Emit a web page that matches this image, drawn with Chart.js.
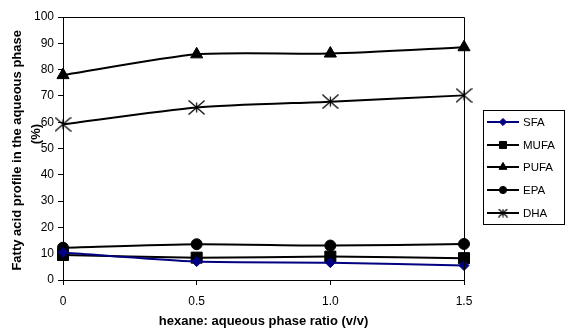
<!DOCTYPE html>
<html>
<head>
<meta charset="utf-8">
<script src="https://cdn.jsdelivr.net/npm/chart.js@4"></script>
<style>
  html, body { margin: 0; padding: 0; background: #fff; }
  #wrap { width: 568px; height: 330px; }
</style>
</head>
<body>
<div id="wrap"><canvas id="chart"></canvas></div>
<script>
// hexane : aqueous phase ratio (v/v)
const ratios = [0, 0.5, 1, 1.5];

// fatty acid profile in the aqueous phase (%)
const sfa = [10.5, 7.0, 6.6, 5.5];
const mufa = [9.5, 8.5, 8.9, 8.3];
const pufa = [77.9, 85.8, 86.1, 88.5];
const epa = [12.3, 13.6, 13.1, 13.7];
const dha = [59.2, 65.6, 67.8, 70.2];

const seriesNames = ["SFA", "MUFA", "PUFA", "EPA", "DHA"];

const FONT = "'Liberation Sans', Arial, sans-serif";

// asterisk marker: an X with a short vertical bar
function makeStar(w, h, bar) {
  const c = document.createElement("canvas");
  c.width = w;
  c.height = h;
  const g = c.getContext("2d");
  g.strokeStyle = "#000";
  g.lineWidth = 1.2;
  g.beginPath();
  g.moveTo(0.5, 0.5); g.lineTo(w - 0.5, h - 0.5);
  g.moveTo(w - 0.5, 0.5); g.lineTo(0.5, h - 0.5);
  g.moveTo(w / 2, h / 2 - bar); g.lineTo(w / 2, h / 2 + bar);
  g.stroke();
  return c;
}
const starBig = makeStar(17, 15, 5);
const starSmall = makeStar(10, 9, 4);

function pts(values) {
  return values.map((v, i) => ({ x: ratios[i], y: v }));
}

function series(label, values, color, style, radius) {
  return {
    label: label,
    data: pts(values),
    borderColor: color,
    backgroundColor: color,
    borderWidth: 2,
    pointStyle: style,
    pointRadius: radius,
    pointBorderWidth: 1,
    tension: 0.22,
    clip: false,
  };
}

// draws the box around the plot and the boxed legend on the right
const frameAndLegend = {
  id: "frameAndLegend",
  afterDraw(chart) {
    const ctx = chart.ctx;
    const a = chart.chartArea;
    ctx.save();
    ctx.strokeStyle = "#000";
    ctx.lineWidth = 1;
    ctx.beginPath();
    ctx.moveTo(Math.round(a.left) + 0.5, Math.round(a.top) + 0.5);
    ctx.lineTo(Math.round(a.right) + 0.5, Math.round(a.top) + 0.5);
    ctx.lineTo(Math.round(a.right) + 0.5, Math.round(a.bottom) + 0.5);
    ctx.stroke();

    // legend box
    ctx.strokeRect(483.5, 110.5, 81, 114);
    const rowTop = 122;
    const rowStep = 22.7;
    const legendRadius = [3.6, 5, 4.6, 3.6, 0];
    chart.data.datasets.forEach((ds, i) => {
      const y = Math.round(rowTop + i * rowStep);
      ctx.strokeStyle = ds.borderColor;
      ctx.fillStyle = ds.backgroundColor;
      ctx.lineWidth = 2;
      ctx.beginPath();
      ctx.moveTo(487, y);
      ctx.lineTo(519, y);
      ctx.stroke();
      ctx.lineWidth = 1;
      const style = ds.pointStyle === starBig ? starSmall : ds.pointStyle;
      Chart.helpers.drawPoint(ctx, {
        pointStyle: style,
        radius: legendRadius[i],
        rotation: 0,
        borderWidth: 1,
      }, 503, y);
      ctx.fillStyle = "#000";
      ctx.font = "11.5px " + FONT;
      ctx.textBaseline = "middle";
      ctx.textAlign = "left";
      ctx.fillText(ds.label, 523, y + 0.5);
    });
    ctx.restore();
  },
};

new Chart(document.getElementById("chart"), {
  type: "line",
  data: {
    datasets: [
      series(seriesNames[0], sfa, "#000080", "rectRot", 5),
      series(seriesNames[1], mufa, "#000000", "rect", 7.8),
      series(seriesNames[2], pufa, "#000000", "triangle", 7),
      series(seriesNames[3], epa, "#000000", "circle", 5.5),
      series(seriesNames[4], dha, "#000000", starBig, 8),
    ],
  },
  options: {
    responsive: true,
    maintainAspectRatio: false,
    animation: false,
    events: [],
    layout: {
      padding: { left: 0, right: 104, top: 17, bottom: 0 },
    },
    plugins: {
      legend: { display: false },
      tooltip: { enabled: false },
    },
    scales: {
      x: {
        type: "linear",
        min: 0,
        max: 1.5,
        afterFit: (scale) => { scale.height = 50; },
        grid: {
          display: true,
          drawOnChartArea: false,
          drawTicks: true,
          tickLength: 5,
          color: "#000",
        },
        border: { display: true, color: "#000", width: 1 },
        ticks: {
          stepSize: 0.5,
          padding: 9,
          color: "#000",
          font: { family: FONT, size: 12 },
        },
        title: {
          display: true,
          text: "hexane: aqueous phase ratio (v/v)",
          color: "#000",
          padding: 0,
          font: { family: FONT, size: 13, weight: "bold", lineHeight: 1.25 },
        },
      },
      y: {
        min: 0,
        max: 100,
        afterFit: (scale) => { scale.width = 63; },
        grid: {
          display: true,
          drawOnChartArea: false,
          drawTicks: true,
          tickLength: 5,
          color: "#000",
        },
        border: { display: true, color: "#000", width: 1 },
        ticks: {
          stepSize: 10,
          padding: 4,
          color: "#000",
          font: { family: FONT, size: 12 },
        },
        title: {
          display: true,
          text: ["Fatty acid profile in the aqueous phase ", "        (%)"],
          color: "#000",
          padding: { top: 8, bottom: 0 },
          font: { family: FONT, size: 13, weight: "bold", lineHeight: 1.45 },
        },
      },
    },
  },
  plugins: [frameAndLegend],
});
</script>
</body>
</html>
